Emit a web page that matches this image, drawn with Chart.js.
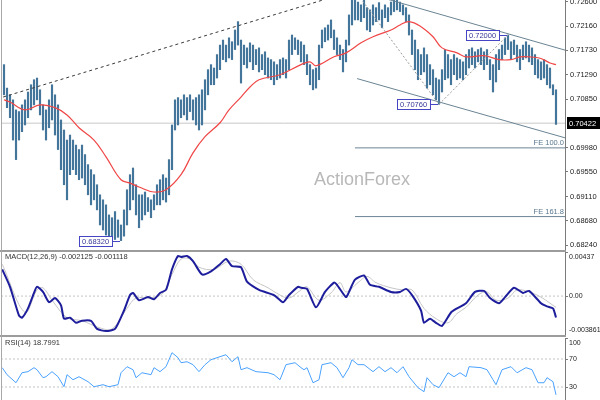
<!DOCTYPE html>
<html>
<head>
<meta charset="utf-8">
<title>AUD/USD daily - MACD - RSI</title>
<script src="https://cdn.jsdelivr.net/npm/chart.js@4.4.0/dist/chart.umd.min.js"></script>
<style>
    html, body { margin: 0; padding: 0; background: #ffffff; overflow: hidden; }
    #wrap { position: relative; width: 600px; height: 400px; overflow: hidden; }
    #wrap canvas { position: absolute; left: 0; }
    .sep { position: absolute; left: 0; width: 566px; height: 2px; background: #9c9c9c; }
    #leftEdge { position: absolute; left: 1px; top: 0; width: 1px; height: 400px; background: #a8a8a8; }
</style>
</head>
<body>
<div id="wrap">
    <canvas id="priceChart" width="600" height="250" style="top:0px"></canvas>
    <canvas id="macdChart" width="600" height="83" style="top:252px"></canvas>
    <canvas id="rsiChart" width="600" height="70" style="top:338px"></canvas>
    <div class="sep" style="top:250px"></div>
    <div class="sep" style="top:335px"></div>
    <div id="leftEdge"></div>
</div>
<script>
// 1. Data (bar index -> price)
const highs = [
    0.7147, 0.7105, 0.7093, 0.7084, 0.7066, 0.7063, 0.7075, 0.7084, 0.7098, 0.7111,
    0.7120, 0.7123, 0.7102, 0.7075, 0.7066, 0.7084, 0.7111, 0.7093, 0.7075, 0.7048,
    0.7030, 0.7012, 0.7021, 0.7012, 0.7003, 0.6995, 0.7003, 0.6986, 0.6968, 0.6959,
    0.6950, 0.6932, 0.6914, 0.6905, 0.6896, 0.6878, 0.6873, 0.6884, 0.6869, 0.6860,
    0.6887, 0.6923, 0.6950, 0.6962, 0.6932, 0.6914, 0.6914, 0.6919, 0.6909, 0.6905,
    0.6914, 0.6932, 0.6941, 0.6950, 0.6944, 0.6977, 0.7039, 0.7084, 0.7088, 0.7084,
    0.7093, 0.7088, 0.7093, 0.7084, 0.7088, 0.7093, 0.7102, 0.7120, 0.7138, 0.7147,
    0.7141, 0.7165, 0.7182, 0.7191, 0.7182, 0.7195, 0.7188, 0.7209, 0.7224, 0.7191,
    0.7182, 0.7177, 0.7186, 0.7182, 0.7174, 0.7177, 0.7165, 0.7170, 0.7159, 0.7156,
    0.7152, 0.7147, 0.7156, 0.7159, 0.7156, 0.7191, 0.7200, 0.7195, 0.7191, 0.7188,
    0.7182, 0.7165, 0.7147, 0.7138, 0.7141, 0.7182, 0.7209, 0.7213, 0.7218, 0.7227,
    0.7209, 0.7195, 0.7182, 0.7174, 0.7191, 0.7236, 0.7268, 0.7270, 0.7259, 0.7254,
    0.7272, 0.7249, 0.7245, 0.7254, 0.7249, 0.7258, 0.7245, 0.7254, 0.7249, 0.7259,
    0.7268, 0.7275, 0.7259, 0.7254, 0.7249, 0.7236, 0.7209, 0.7191, 0.7174, 0.7165,
    0.7177, 0.7165, 0.7147, 0.7138, 0.7123, 0.7120, 0.7138, 0.7174, 0.7165, 0.7156,
    0.7165, 0.7159, 0.7156, 0.7152, 0.7165, 0.7174, 0.7177, 0.7170, 0.7174, 0.7177,
    0.7170, 0.7174, 0.7156, 0.7147, 0.7165, 0.7174, 0.7182, 0.7195, 0.7200, 0.7188,
    0.7191, 0.7182, 0.7174, 0.7182, 0.7188, 0.7182, 0.7177, 0.7165, 0.7156, 0.7152,
    0.7156, 0.7147, 0.7141, 0.7111, 0.7102
];
const lows = [
    0.7093, 0.7070, 0.7052, 0.7012, 0.6977, 0.7012, 0.7027, 0.7039, 0.7052, 0.7066,
    0.7075, 0.7084, 0.7057, 0.7030, 0.7012, 0.7034, 0.7048, 0.7021, 0.6995, 0.6959,
    0.6932, 0.6905, 0.6950, 0.6959, 0.6950, 0.6941, 0.6944, 0.6932, 0.6914, 0.6896,
    0.6905, 0.6887, 0.6860, 0.6851, 0.6842, 0.6836, 0.6837, 0.6834, 0.6838, 0.6832,
    0.6840, 0.6860, 0.6887, 0.6905, 0.6878, 0.6855, 0.6869, 0.6878, 0.6884, 0.6873,
    0.6887, 0.6896, 0.6896, 0.6905, 0.6901, 0.6914, 0.6959, 0.7030, 0.7039, 0.7052,
    0.7057, 0.7048, 0.7063, 0.7048, 0.7039, 0.7030, 0.7039, 0.7066, 0.7093, 0.7111,
    0.7111, 0.7123, 0.7138, 0.7156, 0.7152, 0.7159, 0.7156, 0.7174, 0.7182, 0.7114,
    0.7147, 0.7141, 0.7152, 0.7138, 0.7147, 0.7134, 0.7138, 0.7129, 0.7123, 0.7120,
    0.7111, 0.7120, 0.7123, 0.7129, 0.7123, 0.7138, 0.7165, 0.7174, 0.7165, 0.7152,
    0.7147, 0.7129, 0.7111, 0.7102, 0.7105, 0.7120, 0.7177, 0.7188, 0.7191, 0.7195,
    0.7174, 0.7165, 0.7156, 0.7134, 0.7152, 0.7182, 0.7218, 0.7227, 0.7227, 0.7224,
    0.7231, 0.7209, 0.7206, 0.7218, 0.7224, 0.7227, 0.7213, 0.7231, 0.7224, 0.7236,
    0.7242, 0.7245, 0.7242, 0.7236, 0.7224, 0.7200, 0.7165, 0.7138, 0.7120, 0.7129,
    0.7134, 0.7105, 0.7111, 0.7093, 0.7084, 0.7076, 0.7098, 0.7120, 0.7123, 0.7111,
    0.7129, 0.7120, 0.7123, 0.7120, 0.7129, 0.7141, 0.7147, 0.7141, 0.7152, 0.7147,
    0.7138, 0.7147, 0.7120, 0.7098, 0.7116, 0.7138, 0.7156, 0.7165, 0.7174, 0.7156,
    0.7165, 0.7152, 0.7138, 0.7156, 0.7159, 0.7152, 0.7147, 0.7129, 0.7123, 0.7120,
    0.7123, 0.7111, 0.7105, 0.7093, 0.7040
];

// moving average (red), sampled along the bars
const maIdx = [0, 2, 7, 12, 17, 21, 25, 30, 34, 39, 42, 45, 50, 54, 59, 63, 67, 72, 75, 79, 82, 85, 92,
    99, 102, 104, 110, 114, 119, 123, 129, 132, 135, 139, 143, 146, 151, 154, 160, 165, 169, 172, 175, 179, 182, 184];
const maVal = [0.7084, 0.7080, 0.7066, 0.7075, 0.7070, 0.7057, 0.7034, 0.7012, 0.6982, 0.6941, 0.6935, 0.6928,
    0.6919, 0.6923, 0.6950, 0.6989, 0.7018, 0.7043, 0.7066, 0.7089, 0.7107, 0.7120, 0.7129, 0.7147, 0.7152,
    0.7145, 0.7161, 0.7168, 0.7186, 0.7197, 0.7209, 0.7218, 0.7224, 0.7215, 0.7197, 0.7177, 0.7168, 0.7161,
    0.7163, 0.7156, 0.7156, 0.7161, 0.7161, 0.7158, 0.7150, 0.7147];

// drawn studies: [bar index, price] pairs
const trendLine = [[-0.3, 0.7089], [120, 0.7285]];
const fibDown = [[118, 0.7272], [145, 0.7076]];
const fibUp = [[145, 0.7076], [168, 0.7200]];
const channelTop = [[124, 0.7270], [187, 0.7173]];
const channelBottom = [[117.7, 0.7122], [187, 0.7016]];
const feLevels = [0.6998, 0.6875];
const feNames = ['FE 100.0', 'FE 161.8'];
const feStart = 117;
const lastPrice = 0.70422;
const markIdx = [39, 145, 168];
const markVal = [0.68320, 0.70760, 0.72000];

const priceTicks = [0.72600, 0.72160, 0.71730, 0.71290, 0.70850, 0.69980, 0.69550, 0.69110, 0.68680, 0.68240];

// MACD(12,26,9)
const macdIdx = [-0.6, 2, 5, 6, 8, 10, 11, 13, 15, 17, 19, 20, 22, 24, 26, 29, 31, 34, 37, 40,
    42, 43, 45, 48, 50, 52, 54, 56, 58, 59, 61, 63, 66, 69, 72, 74, 76, 79, 81, 85,
    90, 93, 95, 98, 99, 101, 104, 107, 110, 111, 114, 115, 117, 120, 122, 125, 129, 132, 134, 136,
    139, 140, 142, 144, 146, 149, 151, 154, 157, 160, 162, 165, 167, 170, 173, 175, 179, 181, 183, 184];
const macdVal = [0.00265, 0.00092, -0.00194, -0.00214, -0.00122, 0.00031, 0.00092, 0.00041, -0.00061, -0.00020,
    -0.00092, -0.00224, -0.00214, -0.00265, -0.00245, -0.00245, -0.00326, -0.00347, -0.00326, -0.00143,
    0.00010, 0.00031, -0.00041, -0.00010, -0.00031, 0.00031, 0.00061, 0.00265, 0.00398, 0.00388,
    0.00398, 0.00347, 0.00214, 0.00245, 0.00316, 0.00367, 0.00296, 0.00286, 0.00143, 0.00061,
    0.00010, -0.00061, 0.00010, 0.00092, 0.00082, 0.00071, -0.00112, 0.00041, 0.00133, 0.00112,
    -0.00010, 0.00041, 0.00163, 0.00204, 0.00112, 0.00092, 0.00041, 0.00041, 0.00071, 0.00010,
    -0.00143, -0.00265, -0.00224, -0.00265, -0.00296, -0.00163, -0.00122, -0.00071, 0.00041, 0.00051,
    -0.00020, -0.00071, -0.00010, 0.00082, 0.00031, 0.00051, -0.00071, -0.00102, -0.00122, -0.00212];
const signalIdx = [-0.6, 7, 11, 13, 16, 21, 26, 32, 36, 41, 44, 49, 53, 56, 59, 62, 65, 70, 75, 79,
    83, 88, 92, 95, 99, 101, 105, 109, 112, 114, 118, 121, 124, 129, 133, 136, 140, 144, 148, 151,
    154, 158, 161, 164, 168, 171, 175, 179, 182, 184];
const signalVal = [0.00316, -0.00163, 0.00061, 0.00082, -0.00041, -0.00214, -0.00245, -0.00316, -0.00326, -0.00122,
    -0.00020, -0.00020, 0.00031, 0.00214, 0.00367, 0.00367, 0.00286, 0.00265, 0.00347, 0.00316,
    0.00163, 0.00082, 0.00010, -0.00020, 0.00061, 0.00092, -0.00041, 0.00031, 0.00133, 0.00041,
    0.00133, 0.00194, 0.00133, 0.00082, 0.00061, 0.00061, -0.00122, -0.00224, -0.00265, -0.00173,
    -0.00112, 0.00010, 0.00041, -0.00041, -0.00020, 0.00061, 0.00041, -0.00010, -0.00071, -0.00112];
const macdMax = 0.00437;
const macdMin = -0.003861;

// RSI(14)
const rsiIdx = [-0.6, 1, 4, 6, 8, 10, 11, 13, 14, 16, 18, 20, 21, 23, 25, 28, 30, 33, 35, 38,
    39, 41, 43, 44, 46, 49, 50, 52, 54, 55, 56, 58, 59, 61, 63, 65, 67, 69, 71, 74,
    76, 78, 79, 81, 84, 88, 90, 92, 94, 97, 99, 100, 101, 103, 105, 106, 109, 111, 113, 115,
    116, 118, 120, 123, 125, 127, 129, 131, 133, 135, 138, 140, 141, 143, 145, 148, 150, 152, 154, 155,
    159, 161, 163, 164, 166, 169, 171, 174, 176, 178, 180, 181, 183, 184];
const rsiVal = [57.6, 47.6, 36.1, 50.4, 51.9, 57.6, 54.7, 43.3, 44.7, 51.9, 44.7, 30.4, 47.6, 40.4, 44.7, 37.6, 30.4, 33.3, 30.4, 33.3,
    50.4, 59.0, 54.7, 43.3, 50.4, 47.6, 57.6, 51.9, 59.0, 69.0, 79.0, 71.9, 64.7, 66.1, 61.9, 51.9, 61.9, 69.0, 71.9, 76.1,
    66.1, 73.3, 54.7, 57.6, 51.9, 50.4, 47.6, 40.4, 61.9, 64.7, 57.6, 54.7, 57.6, 36.1, 40.4, 61.9, 64.7, 57.6, 43.3, 57.6,
    69.0, 61.9, 61.9, 51.9, 59.0, 51.9, 57.6, 50.4, 59.0, 44.7, 29.0, 23.3, 43.3, 33.3, 29.0, 50.4, 44.7, 50.4, 44.7, 59.0,
    57.6, 54.7, 40.4, 33.3, 54.7, 59.0, 50.4, 57.6, 54.7, 36.1, 36.1, 43.3, 37.6, 18.8];
const rsiLevels = [70, 30];

// 2. Shared look
const FONT = '"Liberation Sans", Arial, sans-serif';
const X_MIN = -0.67, X_MAX = 187;

function pts(idx, vals) {
    return idx.map((x, k) => ({ x: x, y: vals[k] }));
}
function seg(pair) {
    return pair.map(p => ({ x: p[0], y: p[1] }));
}
function flat(v, from) {
    return [{ x: from, y: v }, { x: X_MAX + 1, y: v }];
}
function lineSet(data, color, width, dash, extra) {
    return Object.assign({
        type: 'line', data: data, borderColor: color, borderWidth: width,
        borderDash: dash || [], pointRadius: 0, fill: false, tension: 0, order: 1
    }, extra || {});
}
function sideAxis(min, max, tickValues, showLabels) {
    return {
        position: 'right', min: min, max: max,
        afterFit: s => { s.width = 35; s.paddingTop = 0; s.paddingBottom = 0; },
        afterBuildTicks: s => { s.ticks = tickValues.map(v => ({ value: v })); },
        border: { display: true, color: '#7a7a7a', width: 1 },
        grid: { drawOnChartArea: false, drawTicks: true, tickLength: 3, color: '#7a7a7a' },
        ticks: {
            display: showLabels, autoSkip: false, padding: 2, color: '#222',
            font: { family: FONT, size: 7.5 },
            callback: v => Number(v).toFixed(5)
        }
    };
}
function baseOptions(yAxis, plugins) {
    return {
        responsive: false, animation: false, events: [],
        layout: { padding: { left: 2, right: 0, top: 0, bottom: 0 } },
        plugins: Object.assign({ legend: { display: false }, tooltip: { enabled: false } }, plugins),
        scales: {
            x: { type: 'linear', min: X_MIN, max: X_MAX, display: false, offset: false },
            y: yAxis
        }
    };
}

// side labels for the small panels, kept inside the panel edges
const panelText = {
    id: 'panelText',
    afterDraw(chart, args, opts) {
        const { ctx, chartArea: a } = chart;
        const y = chart.scales.y;
        ctx.save();
        ctx.font = '7px ' + FONT;
        ctx.fillStyle = '#222';
        ctx.textBaseline = 'middle';
        (opts.labels || []).forEach(([v, txt]) => {
            const py = Math.min(Math.max(y.getPixelForValue(v), a.top + 5), a.bottom - 5);
            ctx.fillText(txt, a.right + 4, py);
        });
        if (opts.title) {
            ctx.fillStyle = '#333';
            ctx.font = '7.5px ' + FONT;
            ctx.fillText(opts.title, a.left + 3, a.top + 5);
        }
        ctx.restore();
    }
};

// watermark, FE names, price marks and the last price box
const priceExtras = {
    id: 'priceExtras',
    beforeDatasetsDraw(chart) {
        const { ctx } = chart;
        ctx.save();
        ctx.font = '18px ' + FONT;
        ctx.fillStyle = '#b8b8b8';
        ctx.textAlign = 'center';
        ctx.textBaseline = 'middle';
        ctx.fillText('ActionForex', 362, 180);
        ctx.restore();
    },
    afterDraw(chart) {
        const { ctx, chartArea: a, scales: { x, y } } = chart;
        ctx.save();
        ctx.font = '7.5px ' + FONT;
        ctx.textBaseline = 'middle';

        ctx.fillStyle = '#5a7890';
        ctx.textAlign = 'right';
        feLevels.forEach((v, k) => ctx.fillText(feNames[k], a.right - 1, y.getPixelForValue(v) - 5));

        ctx.textAlign = 'left';
        markIdx.forEach((i, k) => {
            const px = Math.round(x.getPixelForValue(i)) - 1;
            const py = Math.round(y.getPixelForValue(markVal[k])) + 0.5;
            const txt = markVal[k].toFixed(5);
            const w = Math.ceil(ctx.measureText(txt).width) + 5;
            const bx = px - 8 - w;
            ctx.strokeStyle = '#4646c4';
            ctx.lineWidth = 1;
            ctx.beginPath();
            ctx.moveTo(bx + w, py);
            ctx.lineTo(px, py);
            ctx.stroke();
            ctx.fillStyle = '#ffffff';
            ctx.fillRect(bx, py - 5, w, 10);
            ctx.strokeRect(bx + 0.5, py - 5, w, 10);
            ctx.fillStyle = '#38389a';
            ctx.fillText(txt, bx + 3, py + 0.5);
        });

        const ly = Math.round(y.getPixelForValue(lastPrice));
        ctx.fillStyle = '#000000';
        ctx.fillRect(a.right + 2, ly - 6, 33, 12);
        ctx.fillStyle = '#ffffff';
        ctx.fillText(lastPrice.toFixed(5), a.right + 4, ly + 0.5);
        ctx.restore();
    }
};

// 3. Price panel
new Chart(document.getElementById('priceChart'), {
    type: 'bar',
    data: {
        datasets: [
            lineSet(flat(lastPrice, -1), '#c8c8c8', 1, null, { order: 20 }),
            {
                type: 'bar',
                data: highs.map((h, i) => ({ x: i, y: [lows[i], h] })),
                backgroundColor: '#44759a',
                barThickness: 1.5,
                order: 10
            },
            lineSet(pts(maIdx, maVal), '#f04646', 1.2, null, { tension: 0.4 }),
            lineSet(seg(trendLine), '#3a3a3a', 1, [3, 3]),
            lineSet(seg(fibDown), '#9a9a9a', 1, [2, 2]),
            lineSet(seg(fibUp), '#9a9a9a', 1, [2, 2]),
            lineSet(seg(channelTop), '#6a8494', 1),
            lineSet(seg(channelBottom), '#6a8494', 1),
            lineSet(flat(feLevels[0], feStart), '#6a8494', 1),
            lineSet(flat(feLevels[1], feStart), '#6a8494', 1)
        ]
    },
    options: baseOptions(sideAxis(0.68152, 0.72627, priceTicks, true), {}),
    plugins: [priceExtras]
});

// 4. MACD panel
new Chart(document.getElementById('macdChart'), {
    type: 'line',
    data: {
        datasets: [
            lineSet(flat(0, -1), '#c4c4c4', 1, [2, 2], { order: 5 }),
            lineSet(pts(signalIdx, signalVal), '#c6c6c6', 1, null, { tension: 0.35, order: 3 }),
            lineSet(pts(macdIdx, macdVal), '#1e1e9c', 2, null, { tension: 0.2 })
        ]
    },
    options: baseOptions(sideAxis(macdMin, macdMax, [macdMax, 0, macdMin], false), {
        panelText: {
            title: 'MACD(12,26,9) -0.002125 -0.001118',
            labels: [[macdMax, '0.00437'], [0, '0.00'], [macdMin, '-0.003861']]
        }
    }),
    plugins: [panelText]
});

// 5. RSI panel
new Chart(document.getElementById('rsiChart'), {
    type: 'line',
    data: {
        datasets: [
            lineSet(flat(rsiLevels[0], -1), '#c4c4c4', 1, [2, 2], { order: 5 }),
            lineSet(flat(rsiLevels[1], -1), '#c4c4c4', 1, [2, 2], { order: 5 }),
            lineSet(pts(rsiIdx, rsiVal), '#4aa2ff', 1)
        ]
    },
    options: baseOptions(sideAxis(0, 100, [100, 70, 30], false), {
        panelText: {
            title: 'RSI(14) 18.7991',
            labels: [[100, '100'], [70, '70'], [30, '30']]
        }
    }),
    plugins: [panelText]
});
</script>
</body>
</html>
